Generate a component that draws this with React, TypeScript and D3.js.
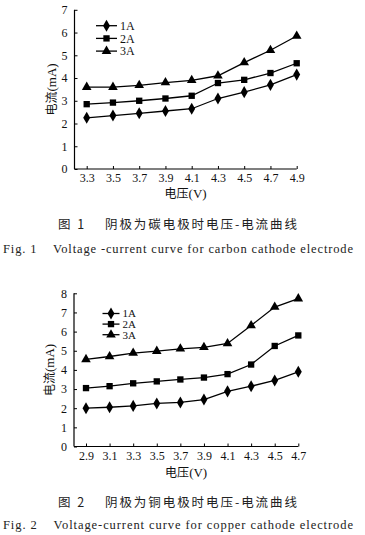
import React, { useEffect, useRef } from 'react';
import * as d3 from 'd3';

// figure 1: carbon cathode
const volts1 = [3.3, 3.5, 3.7, 3.9, 4.1, 4.3, 4.5, 4.7, 4.9];
const carbon1A = [2.25, 2.35, 2.45, 2.55, 2.65, 3.1, 3.38, 3.7, 4.15];
const carbon2A = [2.85, 2.92, 3.0, 3.1, 3.22, 3.78, 3.92, 4.22, 4.65];
const carbon3A = [3.6, 3.6, 3.68, 3.8, 3.9, 4.1, 4.68, 5.22, 5.85];

// figure 2: copper cathode
const volts2 = [2.9, 3.1, 3.3, 3.5, 3.7, 3.9, 4.1, 4.3, 4.5, 4.7];
const copper1A = [2.0, 2.05, 2.12, 2.25, 2.3, 2.45, 2.88, 3.15, 3.45, 3.9];
const copper2A = [3.05, 3.15, 3.3, 3.4, 3.5, 3.6, 3.78, 4.28, 5.25, 5.8];
const copper3A = [4.55, 4.7, 4.88, 4.98, 5.1, 5.18, 5.38, 6.32, 7.28, 7.72];

const seriesNames = ['1A', '2A', '3A'];
const yTicks1 = [0, 1, 2, 3, 4, 5, 6, 7];
const yTicks2 = [0, 1, 2, 3, 4, 5, 6, 7, 8];

const FONT = "'Liberation Serif', 'Times New Roman', serif";
const CJK = "'Noto Sans CJK SC', sans-serif";

const symbols = [d3.symbolDiamond, d3.symbolSquare, d3.symbolTriangle];
const symbolSizes = [42, 40, 40];

type PanelCfg = {
  xs: number[];
  series: number[][];
  yTicks: number[];
  yMax: number;
  xRange: [number, number];
  axisX: number;
  yRange: [number, number];
  legend: { x: number; y: number; dy: number; len: number; font: number };
  xTitleY: number;
  yTitleX: number;
};

function drawPanel(g: d3.Selection<SVGGElement, unknown, null, undefined>, c: PanelCfg) {
  const x = d3.scaleLinear().domain([c.xs[0], c.xs[c.xs.length - 1]]).range(c.xRange);
  const y = d3.scaleLinear().domain([0, c.yMax]).range(c.yRange);

  // axes lines
  g.append('line')
    .attr('x1', c.axisX).attr('x2', c.xRange[1])
    .attr('y1', c.yRange[0]).attr('y2', c.yRange[0])
    .attr('stroke', '#000').attr('stroke-width', 1.2);
  g.append('line')
    .attr('x1', c.axisX).attr('x2', c.axisX)
    .attr('y1', c.yRange[0]).attr('y2', c.yRange[1])
    .attr('stroke', '#000').attr('stroke-width', 1.2);

  const xAxis = g.append('g')
    .attr('transform', `translate(0,${c.yRange[0]})`)
    .call(d3.axisBottom(x).tickValues(c.xs).tickSizeInner(-3).tickSizeOuter(0).tickPadding(4.5).tickFormat(d3.format('.1f')));
  xAxis.select('.domain').remove();
  xAxis.attr('font-family', null).attr('font-size', null);
  xAxis.selectAll('text').style('font-family', FONT).style('font-size', '12px').attr('fill', '#111');

  const yAxis = g.append('g')
    .attr('transform', `translate(${c.axisX},0)`)
    .call(d3.axisLeft(y).tickValues(c.yTicks).tickSizeInner(-3).tickSizeOuter(0).tickPadding(7).tickFormat(d3.format('d')));
  yAxis.select('.domain').remove();
  yAxis.attr('font-family', null).attr('font-size', null);
  yAxis.selectAll('text').style('font-family', FONT).style('font-size', '12px').attr('fill', '#111');

  const line = d3.line<number>().x((_, i) => x(c.xs[i])).y(d => y(d));

  c.series.forEach((vals, si) => {
    g.append('path')
      .attr('d', line(vals) as string)
      .attr('fill', 'none').attr('stroke', '#000').attr('stroke-width', 1.3);
    const sym = d3.symbol().type(symbols[si]).size(symbolSizes[si]);
    g.selectAll(null)
      .data(vals)
      .enter()
      .append('path')
      .attr('d', sym() as string)
      .attr('transform', (d, i) => `translate(${x(c.xs[i])},${y(d)})`)
      .attr('fill', '#000');
  });

  // legend
  const L = c.legend;
  seriesNames.forEach((name, si) => {
    const ly = L.y + si * L.dy;
    g.append('line')
      .attr('x1', L.x).attr('x2', L.x + L.len)
      .attr('y1', ly).attr('y2', ly)
      .attr('stroke', '#000').attr('stroke-width', 1.3);
    g.append('path')
      .attr('d', d3.symbol().type(symbols[si]).size(symbolSizes[si])() as string)
      .attr('transform', `translate(${L.x + L.len / 2},${ly})`)
      .attr('fill', '#000');
    g.append('text')
      .attr('x', L.x + L.len + 3).attr('y', ly + L.font * 0.36)
      .style('font-family', FONT).style('font-size', `${L.font}px`).attr('fill', '#111')
      .text(name);
  });

  // titles
  const midX = (c.axisX + c.xRange[1]) / 2;
  const xt = g.append('text')
    .attr('x', midX).attr('y', c.xTitleY)
    .attr('text-anchor', 'middle').attr('fill', '#111');
  xt.append('tspan').style('font-family', CJK).style('font-size', '12px').text('电压');
  xt.append('tspan').style('font-family', FONT).style('font-size', '13px').text('(V)');

  const midY = (c.yRange[0] + c.yRange[1]) / 2;
  const yt = g.append('text')
    .attr('transform', `translate(${c.yTitleX},${midY}) rotate(-90)`)
    .attr('text-anchor', 'middle').attr('fill', '#111');
  yt.append('tspan').style('font-family', CJK).style('font-size', '12px').text('电流');
  yt.append('tspan').style('font-family', FONT).style('font-size', '13px').text('(mA)');
}

export default function App() {
  const ref = useRef<SVGSVGElement>(null);

  useEffect(() => {
    const svg = d3.select(ref.current);
    svg.selectAll('*').remove();

    drawPanel(svg.append('g'), {
      xs: volts1,
      series: [carbon1A, carbon2A, carbon3A],
      yTicks: yTicks1,
      yMax: 7,
      xRange: [86.7, 296.7],
      axisX: 74.5,
      yRange: [169, 9.8],
      legend: { x: 96, y: 25.7, dy: 12.7, len: 21, font: 12 },
      xTitleY: 198,
      yTitleX: 56,
    });

    drawPanel(svg.append('g'), {
      xs: volts2,
      series: [copper1A, copper2A, copper3A],
      yTicks: yTicks2,
      yMax: 8,
      xRange: [86, 298.3],
      axisX: 74,
      yRange: [446.5, 293.3],
      legend: { x: 102.5, y: 313.5, dy: 10.6, len: 17, font: 11 },
      xTitleY: 477,
      yTitleX: 54,
    });

    const captions = [
      { cn: '图 1    阴极为碳电极时电压-电流曲线', en: 'Fig. 1    Voltage -current curve for carbon cathode electrode', cy: 229, ey: 253 },
      { cn: '图 2    阴极为铜电极时电压-电流曲线', en: 'Fig. 2    Voltage-current curve for copper cathode electrode', cy: 507, ey: 529 },
    ];
    captions.forEach(c => {
      svg.append('text')
        .attr('x', 58).attr('y', c.cy)
        .attr('textLength', 239).attr('lengthAdjust', 'spacing')
        .style('white-space', 'pre')
        .style('font-family', CJK).style('font-size', '12.5px').attr('fill', '#222')
        .text(c.cn);
      svg.append('text')
        .attr('x', 3).attr('y', c.ey)
        .attr('textLength', 350).attr('lengthAdjust', 'spacing')
        .style('white-space', 'pre')
        .style('font-family', FONT).style('font-size', '12.5px').attr('fill', '#222')
        .text(c.en);
    });
  }, []);

  return (
    <svg
      ref={ref}
      width={365}
      height={535}
      style={{ position: 'absolute', left: 0, top: 0, background: '#fff' }}
    />
  );
}
